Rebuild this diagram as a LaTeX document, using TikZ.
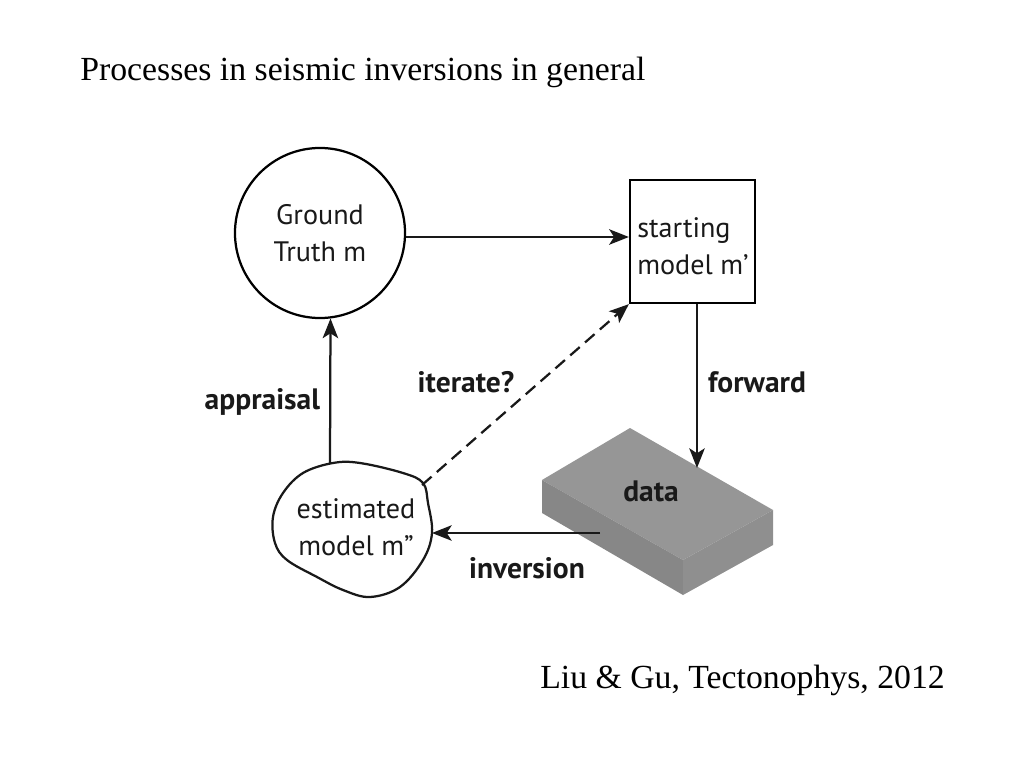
\documentclass[tikz,border=0pt]{standalone}
\usepackage{fontspec}
\setmainfont{Liberation Serif}
\newfontfamily\diagfont{PT Sans}
\usetikzlibrary{arrows.meta}
\begin{document}
\begin{tikzpicture}[
  x=0.025cm,y=-0.025cm,
  flow/.style={-{Stealth[length=14pt,width=11pt,inset=3.5pt]}, line width=1.6pt, black!90},
  lbl/.style={font=\diagfont\bfseries\fontsize{21}{24}\selectfont, text=black!90},
  inner/.style={font=\diagfont\fontsize{20}{26.5}\selectfont, text=black!90, align=left}
]
\useasboundingbox (0,0) rectangle (1024,768);
\node[anchor=base west, inner sep=0pt, font=\fontsize{24}{30}\selectfont] (title) at (80,81) {Processes in seismic inversions in general};
\node[anchor=base east, inner sep=0pt, font=\fontsize{24}{30}\selectfont] (cite) at (945,688) {Liu \& Gu, Tectonophys, 2012};
\node[circle, draw, line width=1.6pt, minimum size=4.25cm, inner sep=0pt, inner, align=center] (gt) at (320,233) {Ground\\Truth m};
\node[draw, line width=1.6pt, minimum width=3.125cm, minimum height=3.075cm, inner sep=0pt] (start) at (692.5,241.5) {};
\node[inner, anchor=west, inner sep=0pt] (starttxt) at (637,246) {starting\\model m\textquoteright};
\fill[black!41!white] (542,480) -- (630,428) -- (773,510) -- (683,560) -- cycle;
\fill[black!47!white] (542,480) -- (683,560) -- (683,595) -- (542,513) -- cycle;
\fill[black!44!white] (683,560) -- (773,510) -- (773,545) -- (683,595) -- cycle;
\node[lbl] (data) at (651,491) {data};
\draw[line width=1.6pt, black!90] plot[smooth cycle, tension=0.6] coordinates {
  (333,463) (360,463) (403,473) (423,483) (428,503) (432,533) (423,560)
  (400,587) (370,597) (343,590) (317,577) (287,560) (275,543) (273,517)
  (283,493) (303,473)};
\node[inner, align=center] (est) at (356,527) {estimated\\model m\textquotedblright};
\coordinate (estN) at (330,463);
\coordinate (estNE) at (422,485);
\coordinate (estE) at (432,533);
\coordinate (dtop) at (697,468);
\coordinate (dside) at (600,533);
\draw[flow] (gt.east |- 0,237) -- (start.west |- 0,237);
\draw[flow] (start.south -| dtop) -- (dtop);
\draw[flow] (dside) -- (estE);
\draw[flow] (estN) -- (gt.-83);
\draw[flow, dashed, dash pattern=on 9pt off 5pt] (estNE) -- (start.south west);
\node[lbl] (fwd) at (757,382) {forward};
\node[lbl] (inv) at (527,568) {inversion};
\node[lbl, anchor=east] (appr) at (325,402) {appraisal};
\node[lbl] (iter) at (466,382) {iterate?};
\end{tikzpicture}
\end{document}
